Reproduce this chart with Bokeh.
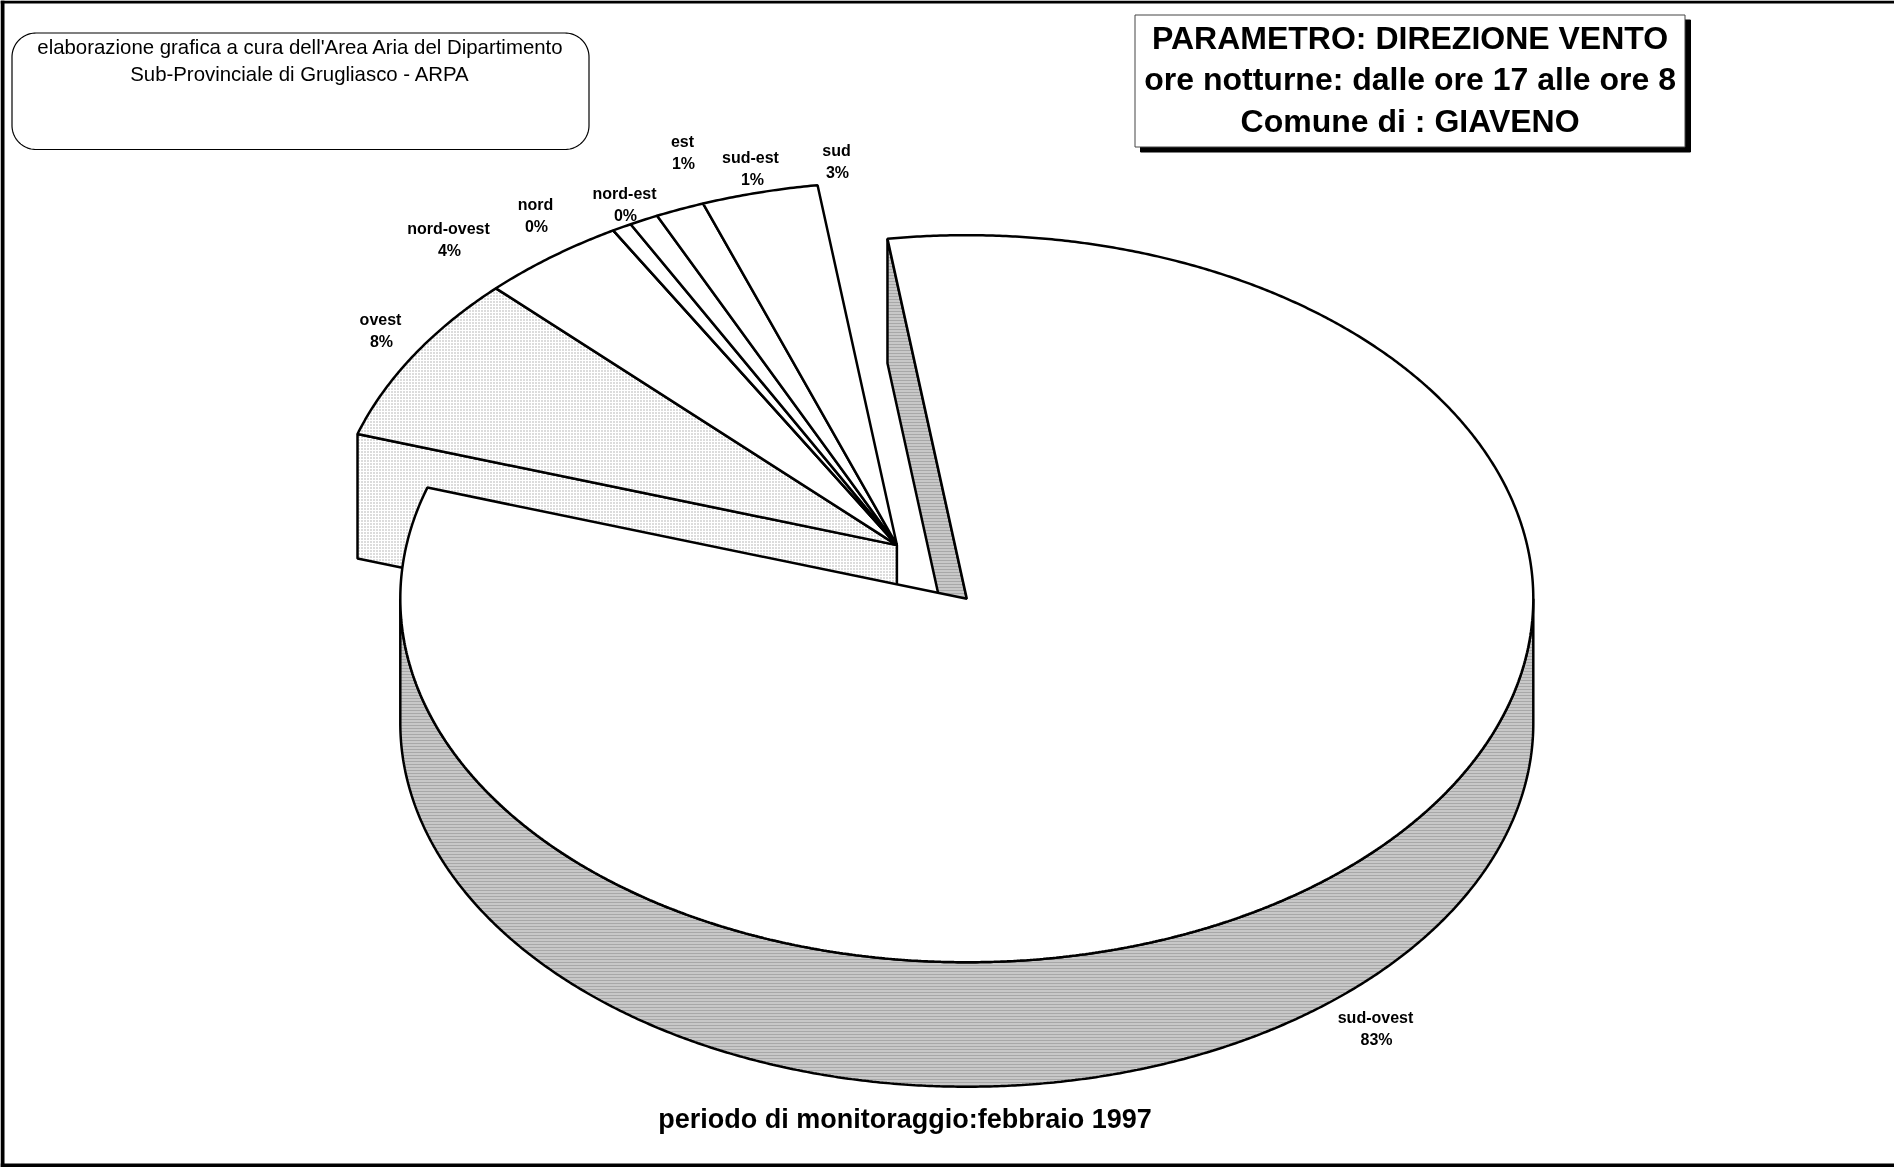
import numpy as np
from bokeh.plotting import figure
from bokeh.models import Range1d, ColumnDataSource
from bokeh.core.properties import value
from bokeh.embed import file_html
from bokeh.resources import INLINE

# ---- chart values ----
directions = ["sud-ovest", "ovest", "nord-ovest", "nord", "nord-est", "est", "sud-est", "sud"]
shares = [82.18, 7.54, 4.17, 0.0, 0.56, 0.83, 1.40, 3.32]
pct_labels = ["83%", "8%", "4%", "0%", "0%", "1%", "1%", "3%"]
title_lines = ["PARAMETRO: DIREZIONE VENTO", "ore notturne: dalle ore 17 alle ore 8", "Comune di : GIAVENO"]
credit_lines = ["elaborazione grafica a cura dell'Area Aria del Dipartimento",
                "Sub-Provinciale di Grugliasco - ARPA"]
footer = "periodo di monitoraggio:febbraio 1997"

# ---- layout (page pixels) ----
W, H = 1894, 1167
RX, RY, DEPTH = 566.5, 363.5, 124.5
MAIN_C = (966.3, 598.2)
EXPL_C = (896.4, 544.6)
START = -8.05
label_x = [1375, 380, 448, 535, 624, 682, 750, 836]
label_y = [1017, 318.5, 227.5, 203.5, 192.5, 141, 157, 149.5]
pct_x = [1376, 381, 449, 536, 625, 683, 752, 837]
LINE_STEP = 22.3
FONT = value("Liberation Sans")
LW = 2.5

p = figure(width=W, height=H, output_backend="svg", toolbar_location=None,
           x_range=Range1d(0, W), y_range=Range1d(H, 0), min_border=0,
           outline_line_color=None, background_fill_color="white",
           styles={"position": "fixed", "left": "0px", "top": "0px"})
p.axis.visible = False
p.grid.visible = False


def rim(center, deg):
    a = np.radians(np.asarray(deg, dtype=float))
    return center[0] + RX * np.sin(a), center[1] - RY * np.cos(a)


def wedge(center, a0, a1):
    aa = np.linspace(a0, a1, max(int(abs(a1 - a0) * 3), 2))
    x, y = rim(center, aa)
    return np.r_[center[0], x, center[0]], np.r_[center[1], y, center[1]]


# angular extents from the shares, clockwise from top
sweeps = np.array(shares) / sum(shares) * 360.0
ends = START + np.cumsum(sweeps)
starts = ends - sweeps

GREY = dict(fill_color="#c8c8c8", hatch_pattern="horizontal_line", hatch_color="#a8a8a8",
            hatch_scale=3, hatch_weight=1, line_color="black", line_width=LW)
DOTS = dict(fill_color="white", hatch_pattern="dot", hatch_color="#a6a6a6",
            hatch_scale=3, hatch_weight=1, line_color="black", line_width=LW)
WHITE = dict(fill_color="white", line_color="black", line_width=LW)

# side wall of the exploded group (left edge of "ovest")
ex0, ey0 = rim(EXPL_C, starts[1])
p.patch([ex0, EXPL_C[0], EXPL_C[0], ex0],
        [ey0, EXPL_C[1], EXPL_C[1] + DEPTH, ey0 + DEPTH], **DOTS)

# top faces of the exploded slices
for i in range(1, len(directions)):
    xs, ys = wedge(EXPL_C, starts[i], ends[i])
    p.patch(xs, ys, **(DOTS if directions[i] == "ovest" else WHITE))

# side wall of the large slice visible through the gap
mx0, my0 = rim(MAIN_C, starts[0])
p.patch([MAIN_C[0], mx0, mx0, MAIN_C[0]],
        [MAIN_C[1], my0, my0 + DEPTH, MAIN_C[1] + DEPTH], **GREY)

# outer curved wall of the large slice
aa = np.linspace(90, 270, 500)
wx, wy = rim(MAIN_C, aa)
p.patch(np.r_[wx, wx[::-1]], np.r_[wy, wy[::-1] + DEPTH], **GREY)

# top of the large slice
xs, ys = wedge(MAIN_C, starts[0], ends[0])
p.patch(xs, ys, **WHITE)

# title box with its shadow
BX0, BX1, BY0, BY1 = 1134.5, 1684.5, 14.5, 146.5
p.quad(left=BX0 + 5.5, right=BX1 + 5.5, top=BY0 + 5, bottom=BY1 + 5, fill_color="black", line_color="black")
p.quad(left=BX0, right=BX1, top=BY0, bottom=BY1, fill_color="white", line_color="#444444", line_width=1)

# rounded credit box
CX0, CX1, CY0, CY1, R = 11.5, 588.5, 32.5, 149, 24
t = np.linspace(0, np.pi / 2, 24)
cx = np.r_[CX0 + R - R * np.cos(t), CX1 - R + R * np.sin(t), CX1 - R + R * np.cos(t), CX0 + R - R * np.sin(t)]
cy = np.r_[CY0 + R - R * np.sin(t), CY0 + R - R * np.cos(t), CY1 - R + R * np.sin(t), CY1 - R + R * np.cos(t)]
p.patch(np.r_[cx, cx[0]], np.r_[cy, cy[0]], fill_color="white", line_color="black", line_width=1.2)

# outer frame (left, top, bottom)
p.quad(left=[0, 0, 0], right=[4, W, W], top=[0, 0, 1163], bottom=[H, 3, H],
       fill_color="black", line_color=None)


def put(xs, ys, txt, size, style="normal"):
    src = ColumnDataSource(dict(x=xs, y=ys, t=txt))
    p.text("x", "y", "t", source=src, text_font=FONT, text_font_size=size, text_font_style=style,
           text_align="center", text_baseline="middle", text_color="black")


put([1409.6] * 3, [37.5, 78.5, 120.3], title_lines, "32px", "bold")
put([300, 299.5], [46.5, 73.5], credit_lines, "20.4px")
put([904.5], [1118.5], [footer], "27px", "bold")
put(label_x, label_y, directions, "16px", "bold")
put(pct_x, [y + LINE_STEP for y in label_y], pct_labels, "16px", "bold")

open("out.html", "w").write(file_html(p, INLINE))
